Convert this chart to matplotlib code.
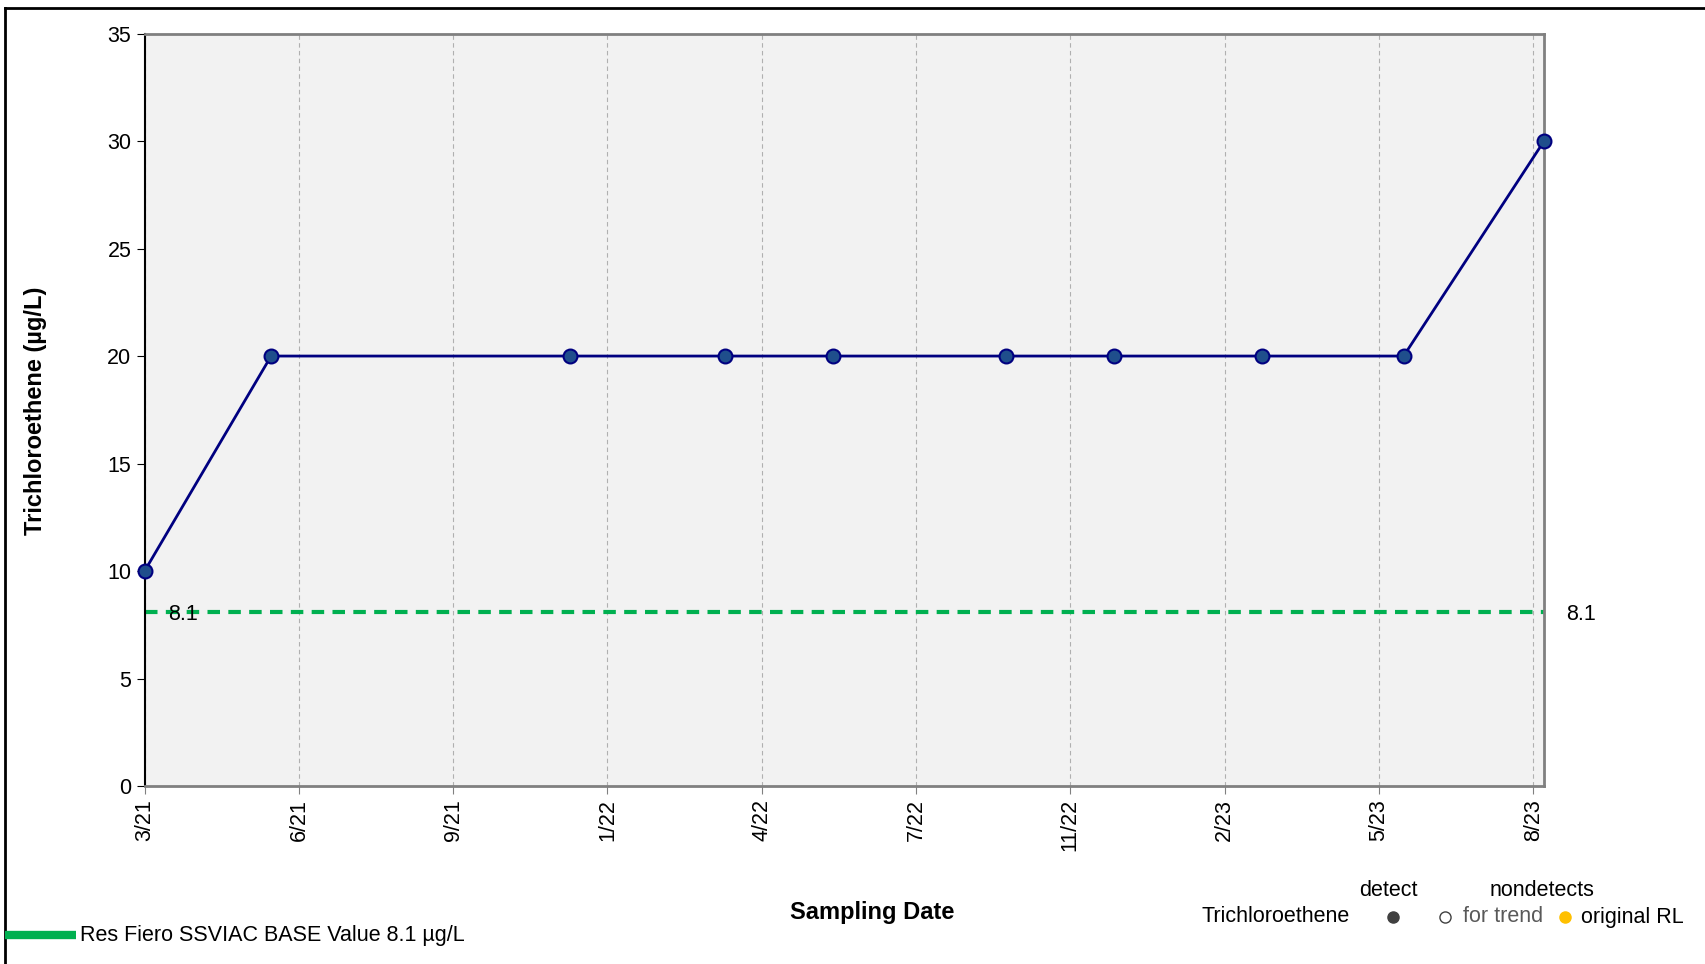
import matplotlib
matplotlib.use("Agg")
import matplotlib.pyplot as plt
import matplotlib.dates as mdates
import matplotlib.transforms as mtransforms
import pandas as pd
import numpy as np
from matplotlib.lines import Line2D

plt.rcParams['font.family'] = ['Liberation Sans', 'DejaVu Sans']

# sampling dates and trichloroethene results (ug/L)
dates = pd.to_datetime(['2021-03-11', '2021-06-01', '2021-12-12', '2022-03-22',
                        '2022-05-31', '2022-09-20', '2022-11-29', '2023-03-05',
                        '2023-06-05', '2023-09-04'])
tce = [10, 20, 20, 20, 20, 20, 20, 20, 20, 30]
screening_value = 8.1
screening_name = 'Res Fiero SSVIAC BASE Value 8.1 µg/L'
tick_step_days = 100

FS = 15.5

fig = plt.figure(figsize=(17.05, 9.64), dpi=100)
ax = fig.add_axes([0.0848, 0.1846, 0.8208, 0.7806])
ax.set_facecolor('#f2f2f2')

# tick every 100 days starting at the first sample
xnum = mdates.date2num(dates)
ticks = np.arange(xnum[0], xnum[-1] + 0.1, tick_step_days)
ax.set_xticks(ticks)
ax.set_xticklabels([f"{mdates.num2date(t).month}/{mdates.num2date(t).strftime('%y')}" for t in ticks],
                   rotation=90, fontsize=FS)
ax.set_xlim(xnum[0], xnum[-1])
ax.xaxis.grid(True, color='#b0b0b0', linestyle=(0, (4, 3)), linewidth=0.8)

ax.set_ylim(0, 35)
ax.set_yticks(range(0, 36, 5))
ax.tick_params(axis='y', labelsize=FS, length=6, direction='out')
ax.tick_params(axis='x', length=6, direction='out', color='#808080')

for side in ['top', 'right', 'bottom']:
    ax.spines[side].set_color('#808080')
    ax.spines[side].set_linewidth(2)
ax.spines['left'].set_color('black')
ax.spines['left'].set_linewidth(1.5)

# screening level, labels nudged a few pixels below the line
ax.axhline(screening_value, color='#00b050', linewidth=3, linestyle=(0, (3, 2)), zorder=2)
nudge = ax.get_yaxis_transform() + mtransforms.ScaledTranslation(0, -3 / 100, fig.dpi_scale_trans)
ax.text(0.017, screening_value, f'{screening_value}', transform=nudge,
        fontsize=FS, va='center', ha='left', zorder=3)
ax.text(1.016, screening_value, f'{screening_value}', transform=nudge,
        fontsize=FS, va='center', ha='left')

ax.plot(xnum, tce, color='#000080', linewidth=2, marker='o', markersize=10,
        markerfacecolor='#1f4e8c', markeredgecolor='#000080', markeredgewidth=1.5,
        clip_on=False, zorder=4)

fig.text(36 / 1705, 1 - 411 / 964, 'Trichloroethene (µg/L)', fontsize=17, fontweight='bold',
         rotation=90, ha='center', va='center')
fig.text(872 / 1705, 1 - 913 / 964, 'Sampling Date', fontsize=17, fontweight='bold',
         ha='center', va='center')

# frame lines along top and left of figure
fig.add_artist(Line2D([5 / 1705, 1], [1 - 8 / 964, 1 - 8 / 964], color='black', linewidth=2))
fig.add_artist(Line2D([5 / 1705, 5 / 1705], [0, 1 - 8 / 964], color='black', linewidth=2))

# screening level legend
fig.add_artist(Line2D([5 / 1705, 76 / 1705], [1 - 935 / 964] * 2, color='#00b050', linewidth=6,
                      solid_capstyle='butt'))
fig.text(80 / 1705, 1 - 935 / 964, screening_name, fontsize=FS, va='center', ha='left')

# symbol legend
yh = 1 - 890 / 964
yr = 1 - 917 / 964
fig.text(1388 / 1705, yh, 'detect', fontsize=FS, ha='center', va='center')
fig.text(1542 / 1705, yh, 'nondetects', fontsize=FS, ha='center', va='center')
fig.text(1201 / 1705, yr, 'Trichloroethene', fontsize=FS, ha='left', va='center')
fig.add_artist(Line2D([1393 / 1705], [yr], marker='o', markersize=8, color='#404040', linestyle='none'))
fig.add_artist(Line2D([1445 / 1705], [yr], marker='o', markersize=8, markerfacecolor='white',
                      markeredgecolor='#404040', linestyle='none'))
fig.text(1463 / 1705, yr, 'for trend', fontsize=FS, ha='left', va='center', color='#595959')
fig.add_artist(Line2D([1565 / 1705], [yr], marker='o', markersize=8, color='#ffc000', linestyle='none'))
fig.text(1581 / 1705, yr, 'original RL', fontsize=FS, ha='left', va='center')

fig.savefig('out.png', dpi=100)
